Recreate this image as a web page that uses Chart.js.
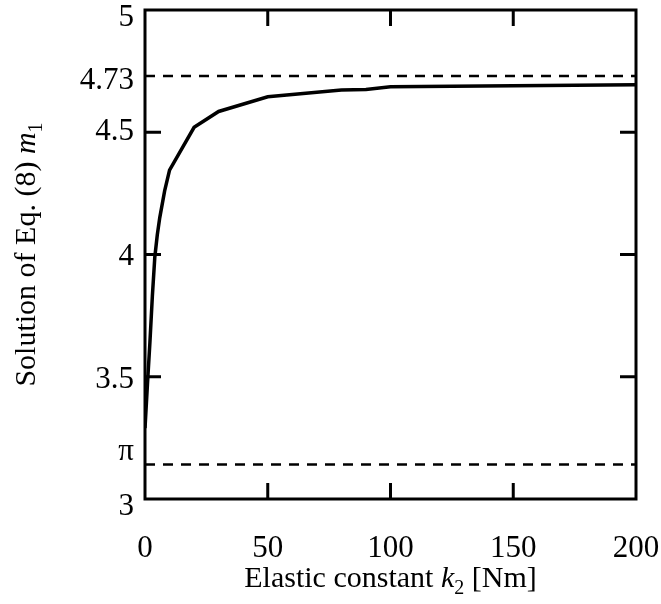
<!DOCTYPE html>
<html>
<head>
<meta charset="utf-8">
<script src="https://cdn.jsdelivr.net/npm/chart.js@4"></script>
<style>
  body { margin: 0; background: #fff; }
  #wrap { width: 661px; height: 604px; }
</style>
</head>
<body>
<div id="wrap"><canvas id="myChart" width="661" height="604"></canvas></div>
<script>
// spring constant k2 [Nm] and the first root m1
const k2 = [0, 1, 2, 3, 4, 5, 6, 8, 10, 20, 30, 50, 80, 90, 100, 200];
const m1 = [3.29, 3.47, 3.64, 3.83, 3.99, 4.08, 4.15, 4.26, 4.345, 4.52, 4.585, 4.645, 4.673, 4.675, 4.686, 4.694];

// limits drawn as dashed lines
const limitLow = Math.PI;
const limitHigh = 4.73;

const xTicks = [0, 50, 100, 150, 200];
const yTicks = [3, Math.PI, 3.5, 4, 4.5, 4.73, 5];
const yTickLabels = ["3", "π", "3.5", "4", "4.5", "4.73", "5"];

// inward tick marks only at these values
const xMarks = [50, 100, 150];
const yMarks = [3.5, 4, 4.5];

const serif = "'Liberation Serif', 'Times New Roman', serif";

// small vertical nudges of the y labels (px, + is down), like the original typesetting
const yLabelNudge = [8, -13, 3, 2, 0, 5, 8];

// frame, inward ticks and the axis titles (italic symbols)
const framePlugin = {
  id: "frame",
  afterDraw(chart) {
    const ctx = chart.ctx;
    const a = chart.chartArea;
    const xs = chart.scales.x;
    const ys = chart.scales.y;
    const len = 16;
    ctx.save();
    ctx.strokeStyle = "#000";
    ctx.lineWidth = 3;
    ctx.strokeRect(a.left, a.top, a.right - a.left, a.bottom - a.top);
    ctx.beginPath();
    xMarks.forEach(v => {
      const px = xs.getPixelForValue(v);
      ctx.moveTo(px, a.bottom); ctx.lineTo(px, a.bottom - len);
      ctx.moveTo(px, a.top); ctx.lineTo(px, a.top + len);
    });
    yMarks.forEach(v => {
      const py = ys.getPixelForValue(v);
      ctx.moveTo(a.left, py); ctx.lineTo(a.left + len, py);
      ctx.moveTo(a.right, py); ctx.lineTo(a.right - len, py);
    });
    ctx.stroke();

    // x title
    ctx.fillStyle = "#000";
    ctx.textBaseline = "alphabetic";
    const parts = [
      { t: "Elastic constant ", f: "30px " + serif, dy: 0 },
      { t: "k", f: "italic 30px " + serif, dy: 0 },
      { t: "2", f: "20px " + serif, dy: 7 },
      { t: " [Nm]", f: "30px " + serif, dy: 0 }
    ];
    drawRuns(ctx, parts, (a.left + a.right) / 2, 587);

    // y title, rotated
    ctx.translate(35, (a.top + a.bottom) / 2);
    ctx.rotate(-Math.PI / 2);
    const yparts = [
      { t: "Solution of Eq. (8) ", f: "30px " + serif, dy: 0 },
      { t: "m", f: "italic 30px " + serif, dy: 0 },
      { t: "1", f: "20px " + serif, dy: 7 }
    ];
    drawRuns(ctx, yparts, 0, 0);
    ctx.restore();
  }
};

function drawRuns(ctx, parts, cx, y) {
  let total = 0;
  parts.forEach(p => { ctx.font = p.f; total += ctx.measureText(p.t).width; });
  let x = cx - total / 2;
  ctx.textAlign = "left";
  parts.forEach(p => {
    ctx.font = p.f;
    ctx.fillText(p.t, x, y + p.dy);
    x += ctx.measureText(p.t).width;
  });
}

const ctx = document.getElementById("myChart").getContext("2d");
new Chart(ctx, {
  type: "line",
  data: {
    datasets: [
      {
        label: "m1",
        data: k2.map((k, i) => ({ x: k, y: m1[i] })),
        borderColor: "#000",
        borderWidth: 3.5,
        pointRadius: 0,
        tension: 0
      },
      {
        label: "upper",
        data: [{ x: 0, y: limitHigh }, { x: 200, y: limitHigh }],
        borderColor: "#000",
        borderWidth: 2.5,
        borderDash: [10, 8],
        pointRadius: 0
      },
      {
        label: "lower",
        data: [{ x: 0, y: limitLow }, { x: 200, y: limitLow }],
        borderColor: "#000",
        borderWidth: 2.5,
        borderDash: [10, 8],
        pointRadius: 0
      }
    ]
  },
  options: {
    responsive: false,
    animation: false,
    layout: { padding: { top: 10, right: 25, bottom: 0, left: 0 } },
    plugins: { legend: { display: false }, tooltip: { enabled: false } },
    scales: {
      x: {
        type: "linear",
        min: 0,
        max: 200,
        afterBuildTicks: s => { s.ticks = xTicks.map(v => ({ value: v })); },
        afterFit: s => {
          s.height = 105;
          s.paddingLeft = 0;
          s.paddingRight = 0;
        },
        grid: { display: false, drawTicks: false },
        border: { display: false },
        ticks: {
          color: "#000",
          padding: 34,
          maxRotation: 0,
          font: { family: serif, size: 31, lineHeight: 1 }
        }
      },
      y: {
        type: "linear",
        min: 3,
        max: 5,
        afterBuildTicks: s => { s.ticks = yTicks.map(v => ({ value: v })); },
        afterFit: s => {
          s.width = 145;
          s.paddingTop = 0;
          s.paddingBottom = 0;
        },
        grid: { display: false, drawTicks: false },
        border: { display: false },
        ticks: {
          color: "#000",
          padding: 11,
          // a two-line label with an empty line moves the text by half the line height
          font: c => {
            const n = yLabelNudge[c.index] || 0;
            return { family: serif, size: 31, lineHeight: n === 0 ? 1 : (2 * Math.abs(n)) + "px" };
          },
          callback: (v, i) => {
            const n = yLabelNudge[i] || 0;
            if (n > 0) return ["", yTickLabels[i]];
            if (n < 0) return [yTickLabels[i], ""];
            return yTickLabels[i];
          }
        }
      }
    }
  },
  plugins: [framePlugin]
});
</script>
</body>
</html>
